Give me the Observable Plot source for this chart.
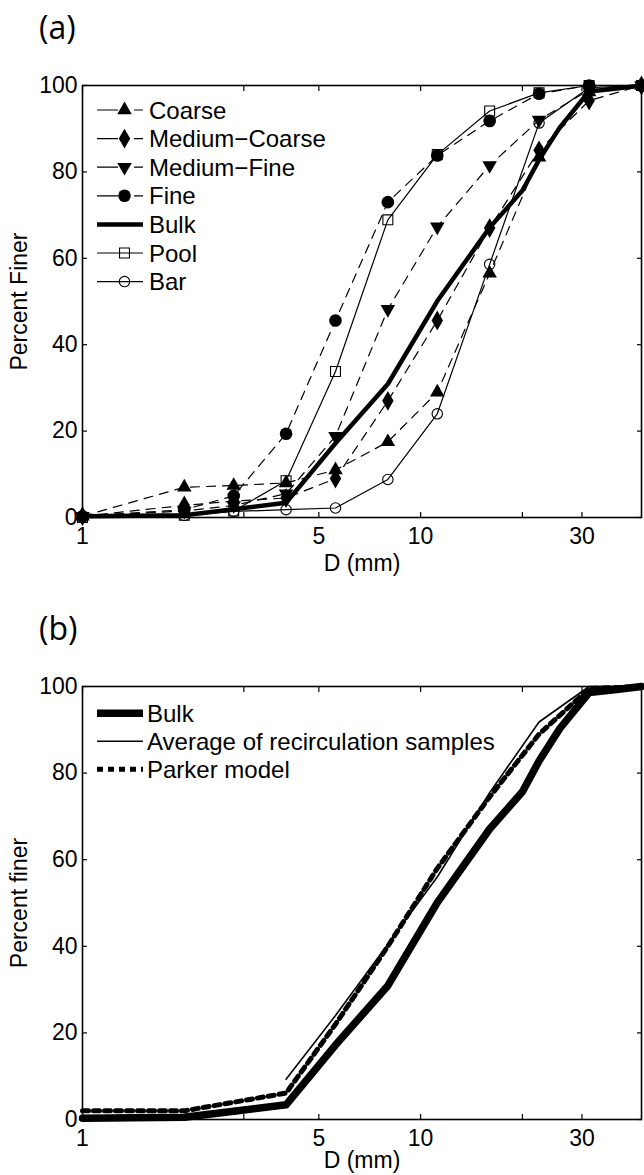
<!DOCTYPE html>
<html><head><meta charset="utf-8">
<script src="https://cdn.jsdelivr.net/npm/d3@7"></script>
<script src="https://cdn.jsdelivr.net/npm/@observablehq/plot@0.6"></script>
<style>
body{margin:0;background:#fff;}
#root{position:relative;width:644px;height:1175px;font-family:"Liberation Sans",Arial,Helvetica,sans-serif;}
.panel{position:absolute;left:0;}
#overlay{position:absolute;left:0;top:0;pointer-events:none;}
</style></head><body><div id="root"></div>
<script>
// ---------- data ----------
const sieveD = [1, 2, 2.8, 4, 5.6, 8, 11.2, 16, 22.4, 31.5, 45];
const coarse       = [0.3, 7.0, 7.4, 8.0, 11.0, 17.5, 29.0, 56.5, 83.4, 98.5, 100];
const mediumCoarse = [0.3, 2.8, 3.8, 4.5, 9.0, 27.0, 45.6, 67.0, 85.0, 96.5, 100];
const mediumFine   = [0.3, 1.5, 2.8, 5.5, 18.8, 48.2, 67.3, 81.5, 92.0, 99.0, 100];
const fine         = [0.3, 1.8, 5.0, 19.4, 45.6, 73.0, 83.8, 91.8, 98.1, 100, 100];
const pool         = [0.0, 0.5, 1.5, 8.5, 33.8, 68.9, 84.0, 94.1, 98.3, 100, 100];
const bar          = [0.0, 0.5, 1.4, 1.8, 2.2, 8.8, 24.0, 58.6, 91.3, 99.5, 100];

const bulkD   = [1, 2, 2.8, 4, 5.6, 8, 11.2, 16, 20, 22.4, 25.8, 31.5, 38, 45];
const bulk    = [0.3, 0.5, 1.9, 3.4, 17.2, 30.9, 50.1, 67.1, 75.7, 82.8, 90.3, 98.6, 99.3, 100];

const avgD    = [4, 5.6, 8, 11.2, 16, 22.4, 31.5, 45];
const average = [9.3, 24.0, 40.5, 56.0, 75.5, 91.8, 100, 100];

const parkerD = [1, 2, 4, 5.6, 8, 11.2, 16, 22.4, 31.5, 45];
const parker  = [2.0, 2.0, 6.1, 22.0, 40.0, 58.0, 74.5, 89.0, 99.5, 100];

const xTickLabels = [1, 5, 10, 30];
const xTickMarks  = [1, 3, 5, 10, 20, 30];
const yTicks      = [0, 20, 40, 60, 80, 100];

// ---------- styles ----------
const FONT = '"Liberation Sans", Arial, Helvetica, sans-serif';
const FS = 23;
const LFS = 24;
const DASH = "9,7";

const seriesA = [
  {name: "Coarse",        D: sieveD, v: coarse,       dash: DASH, sym: "triangle", fill: "black", r: 5.4, rot: 0},
  {name: "Medium\u2212Coarse", D: sieveD, v: mediumCoarse, dash: DASH, sym: "diamond",  fill: "black", r: 6.0, rot: 0},
  {name: "Medium\u2212Fine",   D: sieveD, v: mediumFine,   dash: DASH, sym: "triangle", fill: "black", r: 5.4, rot: 180},
  {name: "Fine",          D: sieveD, v: fine,         dash: DASH, sym: "circle",   fill: "black", r: 6.3, rot: 0},
  {name: "Bulk",          D: bulkD,  v: bulk,         dash: null, sym: null, width: 4.5},
  {name: "Pool",          D: sieveD, v: pool,         dash: null, sym: "square",   fill: "none",  r: 5.6, rot: 0},
  {name: "Bar",           D: sieveD, v: bar,          dash: null, sym: "circle",   fill: "none",  r: 5.2, rot: 0}
];

const seriesB = [
  {name: "Bulk", D: bulkD, v: bulk, width: 7.5, dash: null},
  {name: "Average of recirculation samples", D: avgD, v: average, width: 1.6, dash: null},
  {name: "Parker model", D: parkerD, v: parker, width: 5, dash: "6,5"}
];

function rows(s) { return s.D.map((d, i) => ({D: d, v: s.v[i]})); }

function axes() {
  return [
    Plot.frame({stroke: "black", strokeWidth: 1.6}),
    Plot.axisX({anchor: "bottom", ticks: xTickLabels, tickSize: 0, tickPadding: 10, tickFormat: d => String(d), label: null, fontSize: FS}),
    Plot.axisX({anchor: "bottom", ticks: xTickMarks, tickSize: -5, tickFormat: () => "", label: null, strokeWidth: 1.2}),
    Plot.axisX({anchor: "top", ticks: xTickMarks, tickSize: -5, tickFormat: () => "", label: null, strokeWidth: 1.2}),
    Plot.axisY({anchor: "left", ticks: yTicks, tickSize: 0, tickPadding: 5, label: null, fontSize: FS}),
    Plot.axisY({anchor: "left", ticks: yTicks, tickSize: -5, tickFormat: () => "", label: null, strokeWidth: 1.2}),
    Plot.axisY({anchor: "right", ticks: yTicks, tickSize: -5, tickFormat: () => "", label: null, strokeWidth: 1.2})
  ];
}

function makePlot(opts, marks, ylabel) {
  return Plot.plot({
    width: 644, height: opts.height,
    marginLeft: 82, marginRight: 3, marginTop: opts.top, marginBottom: opts.bottom,
    x: {type: "log", domain: [1, 45]},
    y: {domain: [0, 100]},
    style: {fontFamily: FONT, fontSize: FS + "px", color: "black", background: "white", overflow: "visible"},
    marks: [
      ...axes(),
      ...marks,
      Plot.text(["D (mm)"], {frameAnchor: "bottom", dy: opts.xlabDy, fontSize: FS, lineAnchor: "middle"}),
      Plot.text([ylabel], {frameAnchor: "left", dx: -56, rotate: -90, fontSize: FS, lineAnchor: "bottom", textAnchor: "middle"})
    ]
  });
}

const root = document.getElementById("root");

// panel (a)
const marksA = [];
for (const s of seriesA) {
  const data = rows(s);
  marksA.push(Plot.line(data, {x: "D", y: "v", stroke: "black", strokeWidth: s.width || 1.2, strokeDasharray: s.dash || undefined, strokeLinejoin: "round"}));
  if (s.sym) {
    marksA.push(Plot.dot(data, {x: "D", y: "v", symbol: s.sym, r: s.r, rotate: s.rot,
      fill: s.fill, stroke: s.fill === "none" ? "black" : "none", strokeWidth: 1.1}));
  }
}
const pa = makePlot({height: 600, top: 85, bottom: 83, xlabDy: 46}, marksA, "Percent Finer");
const wa = document.createElement("div"); wa.className = "panel"; wa.style.top = "0px"; wa.appendChild(pa); root.appendChild(wa);

// panel (b)
const marksB = seriesB.map(s => Plot.line(rows(s), {x: "D", y: "v", stroke: "black", strokeWidth: s.width, strokeDasharray: s.dash || undefined, strokeLinejoin: "round"}));
const pb = makePlot({height: 575, top: 86, bottom: 56, xlabDy: 41}, marksB, "Percent finer");
const wb = document.createElement("div"); wb.className = "panel"; wb.style.top = "600px"; wb.appendChild(pb); root.appendChild(wb);

// ---------- overlay: panel tags + legends ----------
const ov = d3.select(root).append("svg").attr("id", "overlay").attr("width", 644).attr("height", 1175)
  .style("font-family", FONT).style("font-size", LFS + "px");

ov.append("text").attr("x", 39).attr("y", 39).style("font-size", "32px")
  .style("font-family", '"Open Sans", "Liberation Sans", sans-serif').text("(a)");
ov.append("text").attr("x", 39).attr("y", 640).style("font-size", "32px")
  .style("font-family", '"Open Sans", "Liberation Sans", sans-serif').text("(b)");

const symMap = {triangle: d3.symbolTriangle, diamond: d3.symbolDiamond, circle: d3.symbolCircle, square: d3.symbolSquare};
const LX0 = 97, LX1 = 143, LXM = 124.5, LT = 149;

seriesA.forEach((s, i) => {
  const y = 110 + i * 28.6;
  const g = ov.append("g");
  g.append("line").attr("x1", LX0).attr("x2", LX1).attr("y1", y).attr("y2", y)
    .attr("stroke", "black").attr("stroke-width", s.width || 1.2)
    .attr("stroke-dasharray", s.dash ? "21,16,9,200" : null);
  if (s.sym) {
    g.append("path").attr("d", d3.symbol(symMap[s.sym], Math.PI * s.r * s.r)())
      .attr("transform", `translate(${LXM},${y}) rotate(${s.rot})`)
      .attr("fill", s.fill).attr("stroke", s.fill === "none" ? "black" : "none").attr("stroke-width", 1.1);
  }
  g.append("text").attr("x", LT).attr("y", y).attr("dy", "0.36em").text(s.name);
});

seriesB.forEach((s, i) => {
  const y = 713.3 + i * 28;
  ov.append("line").attr("x1", LX0).attr("x2", LX1).attr("y1", y).attr("y2", y)
    .attr("stroke", "black").attr("stroke-width", s.width)
    .attr("stroke-dasharray", s.dash);
  ov.append("text").attr("x", LT - 2).attr("y", y).attr("dy", "0.36em").text(s.name);
});
</script>
</body></html>
